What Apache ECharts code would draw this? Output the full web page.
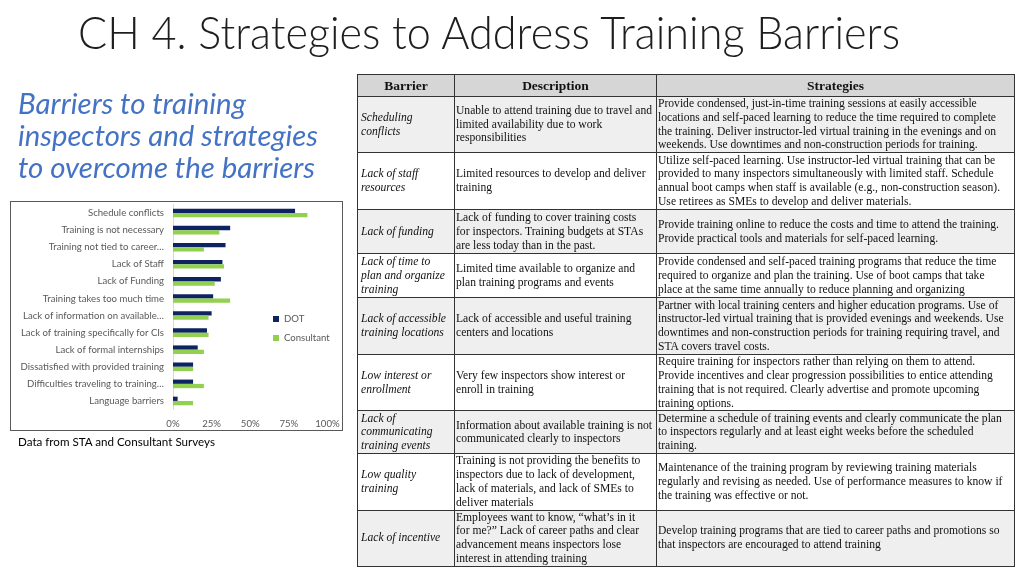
<!DOCTYPE html>
<html>
<head>
<meta charset="utf-8">
<script src="https://cdn.jsdelivr.net/npm/echarts@6/dist/echarts.min.js"></script>
<style>
html,body{margin:0;padding:0;background:#fff;}
body{width:1024px;height:576px;position:relative;overflow:hidden;}
#chart{position:absolute;left:0;top:0;width:1024px;height:576px;}
.fit{position:absolute;white-space:nowrap;transform-origin:0 0;}
#title{left:78px;top:9px;font-family:"Lato","Open Sans",sans-serif;font-weight:300;font-size:46px;color:#1e1e1e;line-height:1;}
.sub{left:18px;font-family:"Lato","Open Sans",sans-serif;font-style:italic;font-size:28px;color:#4472C4;line-height:1;}
#src{left:18px;top:436px;font-family:"Lato","Open Sans",sans-serif;font-size:11.5px;color:#000;line-height:1;}
#box{position:absolute;left:10px;top:201px;width:331px;height:228px;border:1.5px solid #595959;}
#tbl{position:absolute;left:357px;top:74px;border-collapse:collapse;font-family:"Liberation Serif","Times New Roman",serif;font-size:11.6px;line-height:13.8px;color:#111;table-layout:fixed;}
#tbl td,#tbl th{border:1px solid #333;padding:0 1px;vertical-align:middle;white-space:nowrap;overflow:hidden;}
#tbl th{background:#d6d6d6;font-weight:bold;font-size:13.5px;text-align:center;}
#tbl td.b{font-style:italic;padding-left:3px;}
#tbl tr.g td{background:#efefef;}
</style>
</head>
<body>
<div id="chart"></div>
<div id="box"></div>
<div id="title" class="fit" data-w="822">CH 4. Strategies to Address Training Barriers</div>
<div class="fit sub" style="top:89px" data-w="228">Barriers to training</div>
<div class="fit sub" style="top:121px" data-w="300">inspectors and strategies</div>
<div class="fit sub" style="top:153px" data-w="297">to overcome the barriers</div>
<div id="src" class="fit" data-w="197">Data from STA and Consultant Surveys</div>
<table id="tbl"></table>
<script>
// ---- chart data ----
const categories = ["Schedule conflicts","Training is not necessary","Training not tied to career…","Lack of Staff","Lack of Funding","Training takes too much time","Lack of information on available…","Lack of training specifically for CIs","Lack of formal internships","Dissatisfied with provided training","Difficulties traveling to training…","Language barriers"];
const dotValues = [79,37,34,32,31,26,25,22,16,13,13,3];
const consultantValues = [87,30,20,33,27,37,23,23,20,13,20,13];
const xTicks = [0,25,50,75,100];

// ---- table data ----
const headers = ["Barrier","Description","Strategies"];
const barriers = [
 ["Scheduling","conflicts"],
 ["Lack of staff","resources"],
 ["Lack of funding"],
 ["Lack of time to","plan and organize","training"],
 ["Lack of accessible","training locations"],
 ["Low interest or","enrollment"],
 ["Lack of","communicating","training events"],
 ["Low quality","training"],
 ["Lack of incentive"]
];
const descriptions = [
 ["Unable to attend training due to travel and","limited availability due to work","responsibilities"],
 ["Limited resources to develop and deliver","training"],
 ["Lack of funding to cover training costs","for inspectors. Training budgets at STAs","are less today than in the past."],
 ["Limited time available to organize and","plan training programs and events"],
 ["Lack of accessible and useful training","centers and locations"],
 ["Very few inspectors show interest or","enroll in training"],
 ["Information about available training is not","communicated clearly to inspectors"],
 ["Training is not providing the benefits to","inspectors due to lack of development,","lack of materials, and lack of SMEs to","deliver materials"],
 ["Employees want to know, \u201cwhat\u2019s in it","for me?\u201d Lack of career paths and clear","advancement means inspectors lose","interest in attending training"]
];
const strategies = [
 ["Provide condensed, just-in-time training sessions at easily accessible","locations and self-paced learning to reduce the time required to complete","the training. Deliver instructor-led virtual training in the evenings and on","weekends. Use downtimes and non-construction periods for training."],
 ["Utilize self-paced learning. Use instructor-led virtual training that can be","provided to many inspectors simultaneously with limited staff. Schedule","annual boot camps when staff is available (e.g., non-construction season).","Use retirees as SMEs to develop and deliver materials."],
 ["Provide training online to reduce the costs and time to attend the training.","Provide practical tools and materials for self-paced learning."],
 ["Provide condensed and self-paced training programs that reduce the time","required to organize and plan the training. Use of boot camps that take","place at the same time annually to reduce planning and organizing"],
 ["Partner with local training centers and higher education programs. Use of","instructor-led virtual training that is provided evenings and weekends. Use","downtimes and non-construction periods for training requiring travel, and","STA covers travel costs."],
 ["Require training for inspectors rather than relying on them to attend.","Provide incentives and clear progression possibilities to entice attending","training that is not required. Clearly advertise and promote upcoming","training options."],
 ["Determine a schedule of training events and clearly communicate the plan","to inspectors regularly and at least eight weeks before the scheduled","training."],
 ["Maintenance of the training program by reviewing training materials","regularly and revising as needed. Use of performance measures to know if","the training was effective or not."],
 ["Develop training programs that are tied to career paths and promotions so","that inspectors are encouraged to attend training"]
];
const colWidths = [97,202,358];
const rowHeights = [22,56,57,44,44,57,56,43,56,56];

// build table
(function(){
  const t = document.getElementById('tbl');
  const cg = document.createElement('colgroup');
  colWidths.forEach(w=>{const c=document.createElement('col');c.style.width=w+'px';cg.appendChild(c);});
  t.appendChild(cg);
  t.style.width = colWidths.reduce((a,b)=>a+b,0)+'px';
  const esc = s=>s.replace(/&/g,'&amp;').replace(/</g,'&lt;');
  let tr = document.createElement('tr');
  tr.style.height = rowHeights[0]+'px';
  headers.forEach(h=>{const th=document.createElement('th');th.textContent=h;tr.appendChild(th);});
  t.appendChild(tr);
  for(let i=0;i<barriers.length;i++){
    tr = document.createElement('tr');
    tr.style.height = rowHeights[i+1]+'px';
    if(i%2===0) tr.className='g';
    [[barriers[i],'b'],[descriptions[i],''],[strategies[i],'']].forEach(([lines,cls])=>{
      const td=document.createElement('td');
      if(cls) td.className=cls;
      td.innerHTML=lines.map(esc).join('<br>');
      tr.appendChild(td);
    });
    t.appendChild(tr);
  }
})();

// fit text widths
document.querySelectorAll('.fit').forEach(el=>{
  const w = +el.dataset.w;
  const r = el.getBoundingClientRect().width;
  if(w && r) el.style.transform = 'scaleX('+(w/r)+')';
});

const chart = echarts.init(document.getElementById('chart'), null, {renderer:'canvas'});
chart.setOption({
  animation:false,
  textStyle:{fontFamily:'Lato, "Open Sans", sans-serif'},
  grid:{left:173,top:204.5,width:154.5,height:205,containLabel:false},
  legend:{
    orient:'vertical', left:268, top:309, itemWidth:6, itemHeight:6, itemGap:9,
    icon:'rect', textStyle:{fontSize:9.6,color:'#595959'},
    data:['DOT','Consultant']
  },
  xAxis:{
    type:'value', min:0, max:100, interval:25,
    axisLabel:{formatter:v=>v+'%', fontSize:9.6, color:'#595959', margin:9},
    axisLine:{show:false}, axisTick:{show:false},
    splitLine:{show:false}
  },
  yAxis:{
    type:'category', inverse:true, data:categories,
    axisLabel:{fontSize:9.6, color:'#595959', margin:9},
    axisLine:{show:true, lineStyle:{color:'#d9d9d9'}}, axisTick:{show:false}
  },
  series:[
    {name:'DOT', type:'bar', data:dotValues, barWidth:4.3, barGap:'0%', itemStyle:{color:'#0E2361'}},
    {name:'Consultant', type:'bar', data:consultantValues, barWidth:4.3, barGap:'0%', itemStyle:{color:'#92D050'}}
  ]
});
</script>
</body>
</html>
